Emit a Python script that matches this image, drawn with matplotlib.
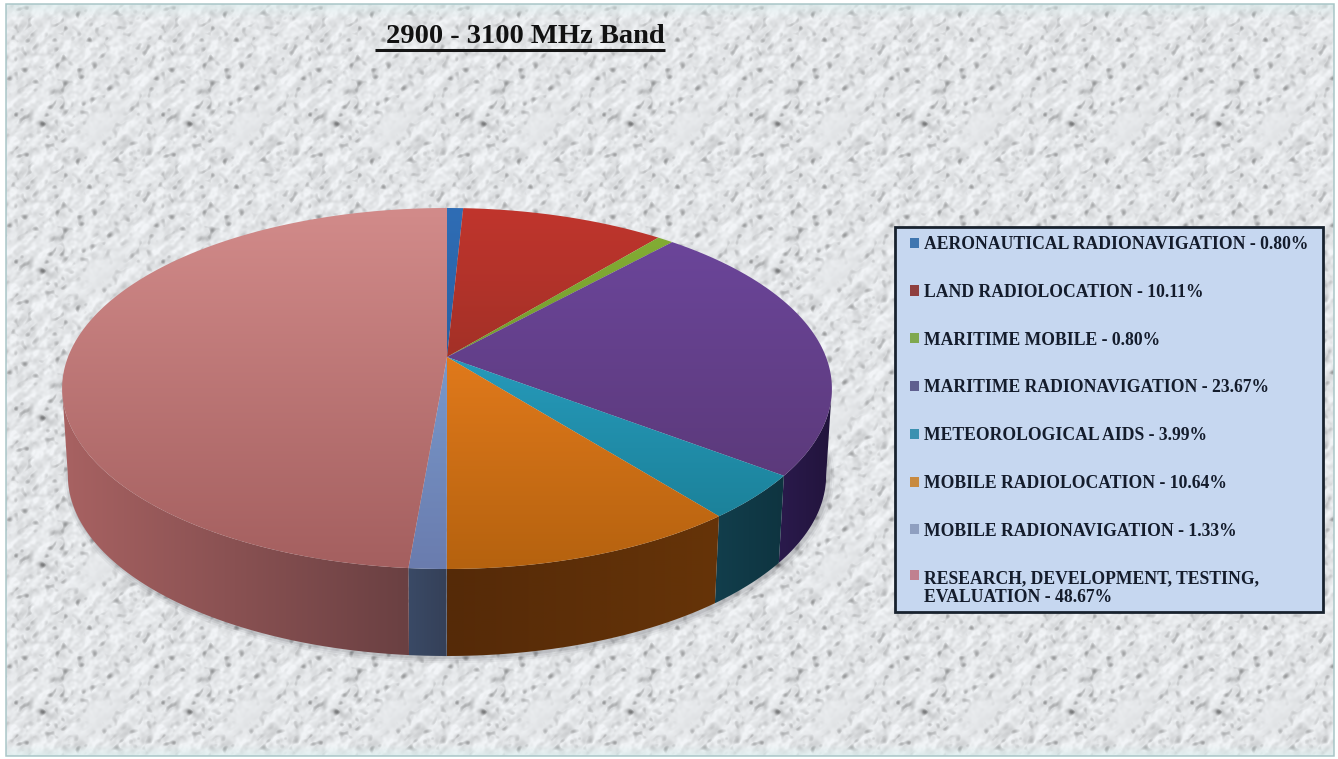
import numpy as np
import matplotlib
matplotlib.use("Agg")
import matplotlib.pyplot as plt
from matplotlib.colors import to_rgb
from matplotlib.legend_handler import HandlerPatch
from matplotlib.patches import Patch, PathPatch, Polygon, Rectangle
from matplotlib.path import Path

# Band allocation, percent of the band, clockwise from 12 o'clock
services = [
    "AERONAUTICAL RADIONAVIGATION",
    "LAND RADIOLOCATION",
    "MARITIME MOBILE",
    "MARITIME RADIONAVIGATION",
    "METEOROLOGICAL AIDS",
    "MOBILE RADIOLOCATION",
    "MOBILE RADIONAVIGATION",
    "RESEARCH, DEVELOPMENT, TESTING,\nEVALUATION",
]
shares = [0.80, 10.11, 0.80, 23.67, 3.99, 10.64, 1.33, 48.67]

# Colours: top face (far edge, near edge), side wall (left end, right end), legend key
top_far = ["#2f6db5", "#c0352d", "#85b035", "#6d479e", "#30b0d8", "#ff8a24", "#82acdf", "#d28b8a"]
top_near = ["#1f4f8a", "#7a2a1e", "#5f8025", "#56356f", "#187a90", "#b5620f", "#6a7cae", "#a45f5f"]
wall_left = ["#1d3a5e", "#5e1c16", "#40581a", "#2a1a4c", "#123e4c", "#552a08", "#3a4a66", "#a86262"]
wall_right = ["#1d3a5e", "#5e1c16", "#40581a", "#22143c", "#0e3440", "#663408", "#354058", "#6a4042"]
key_cols = ["#3f76b0", "#8f3f3f", "#7fa84f", "#5f5f8f", "#3a90b0", "#c88a40", "#8f9fc0", "#c08090"]

W, H = 1338, 759
fig = plt.figure(figsize=(W / 100, H / 100), dpi=100, facecolor="white")
ax = fig.add_axes([0, 0, 1, 1])
ax.set_xlim(0, W)
ax.set_ylim(H, 0)
ax.axis("off")


def marble_tile(n=147):
    """Periodic grey marble tile built from integer-frequency sine waves."""
    y, x = np.mgrid[0:n, 0:n] / n

    def band(kmin, kmax, tilt, salt):
        # band-limited waves; phases come from a fixed hash of the wave numbers
        out = np.zeros_like(x)
        for kx in range(-kmax, kmax + 1):
            for ky in range(0, kmax + 1):
                size = np.hypot(kx, ky)
                if size < kmin or size > kmax:
                    continue
                phase = 2 * np.pi * ((np.sin(kx * 12.9898 + ky * 78.233 + salt) * 43758.5453) % 1)
                along = abs(kx - ky) / (abs(kx) + abs(ky))
                weight = (1 + tilt * (1 - along) ** 3) / size ** 0.8
                out += weight * np.sin(2 * np.pi * (kx * x + ky * y) + phase)
        return out / out.std()

    def periodic_d2(px, py, sx, sy, ang=0.0):
        dx = (x * n - px + n / 2) % n - n / 2
        dy = (y * n - py + n / 2) % n - n / 2
        c, s = np.cos(ang), np.sin(ang)
        return ((dx * c + dy * s) / sx) ** 2 + ((-dx * s + dy * c) / sy) ** 2

    blotches = band(3, 7, 1.5, 1.3)
    flakes = band(6, 18, 2.5, 2.7)
    grain = band(14, 34, 1.5, 4.1)
    mottling = band(7, 22, 1.0, 5.9)
    patches = np.clip(0.75 - 0.6 * blotches, 0, 1)
    dark = np.clip(-mottling - 0.55, 0, None) * patches

    grey = 232 + 3 * blotches + 6.5 * np.clip(flakes, -2.2, 1.2) + 3 * grain - 30 * dark

    # pale diagonal lozenge that recurs with each tile
    lozenge = np.exp(-periodic_d2(95, 122, 34, 14, -0.75) ** 1.5)
    grey = grey * (1 - 0.8 * lozenge) + 233 * 0.8 * lozenge

    # darker vein clusters
    strokes = [
        (110, 72, 2.5, 2.5, 0.0, 50), (30, 50, 8, 2, 0.0, 28), (52, 87, 7, 2.5, 0.0, 30),
        (38, 120, 10, 3, 0.5, 26), (24, 112, 3, 9, 0.2, 24), (58, 155, 3, 3, 0.0, 36),
        (115, 140, 12, 5, -0.6, 16),
    ]
    for px, py, sx, sy, ang, depth in strokes:
        grey -= depth * np.exp(-periodic_d2(px, py, sx, sy, ang))
    return np.clip(grey, 125, 246)


def marble_background():
    x0, x1, y0, y1 = 6, 1334, 4, 756
    tile = marble_tile()
    yy, xx = np.mgrid[y0:y1, x0:x1]
    grey = tile[(yy - y0) % 147, (xx - x0) % 147]
    rgb = np.stack([grey * 0.985, grey * 0.995, grey * 1.005], axis=-1) / 255
    # pale teal wash along the top and bottom edges
    wash = np.clip(1 - (yy - y0) / 14, 0, 1) * 0.6 + np.clip(1 - (y1 - yy) / 12, 0, 1) * 0.75
    rgb = rgb * (1 - wash[..., None]) + np.array([0.86, 0.93, 0.93]) * wash[..., None]
    ax.imshow(np.clip(rgb, 0, 1), extent=(x0, x1, y1, y0), aspect="auto", zorder=0, interpolation="bicubic")
    ax.add_patch(Rectangle((x0, y0), x1 - x0, y1 - y0, fill=False, ec="#a9c6c8", lw=1.1, zorder=1))


# Perspective projection of the disc: hub position, radii, foreshortening, wall depth
HUB_X, HUB_Y = 447.0, 357.0
RAD_X, RAD_Y, TILT = 379.0, 175.0, 0.1745
WALL_DEPTH, WALL_TAPER = 87.0, 0.985
TOP_Y, BOTTOM_Y = 208.0, 569.0
# the wall can only be seen between the two widest points of the rim
WALL_FROM, WALL_TO = np.deg2rad(100.0), np.deg2rad(260.0)


def rim(theta, level=0.0):
    """Screen position of the rim at clockwise angle theta; level 1 is the lower edge."""
    sx, sy = np.sin(theta), np.cos(theta)
    d = 1 + TILT * sy
    u = RAD_X * sx / d
    v = RAD_Y * sy / d
    return HUB_X + u * (1 - (1 - WALL_TAPER) * level), HUB_Y - v + WALL_DEPTH * level


def clip_shape(xs, ys):
    verts = np.column_stack([np.r_[xs, xs[0]], np.r_[ys, ys[0]]])
    codes = [Path.MOVETO] + [Path.LINETO] * (len(verts) - 2) + [Path.CLOSEPOLY]
    patch = PathPatch(Path(verts, codes), transform=ax.transData, fc="none", ec="none")
    ax.add_patch(patch)
    return patch


def ramp(c1, c2, n=256):
    t = np.linspace(0, 1, n)[:, None]
    return np.array(to_rgb(c1))[None, :] * (1 - t) + np.array(to_rgb(c2))[None, :] * t


marble_background()

edges = np.deg2rad(np.concatenate([[0.0], np.cumsum(shares)]) * 3.6)
edges[-1] = 2 * np.pi

# soft cast shadow under the lower edge
sx, sy = rim(np.linspace(0, 2 * np.pi, 361), 1.0)
for width, alpha in [(9, 0.05), (6, 0.07), (3, 0.10)]:
    ax.add_patch(Polygon(np.column_stack([sx + 2, sy + 1]), closed=True, fill=False,
                         ec="#303038", lw=width, alpha=alpha, zorder=2))

for i in range(len(shares)):
    # side wall: horizontal gradient clipped to the visible part of the sector
    t0, t1 = max(edges[i], WALL_FROM), min(edges[i + 1], WALL_TO)
    if t1 > t0:
        tt = np.linspace(t0, t1, max(3, int(np.rad2deg(t1 - t0)) + 2))
        xa, ya = rim(tt, 0.0)
        xb, yb = rim(tt[::-1], 1.0)
        xs, ys = np.r_[xa, xb], np.r_[ya, yb]
        img = ramp(wall_left[i], wall_right[i])[None, :, :]
        wall = ax.imshow(img, extent=(xs.min(), xs.max(), ys.max(), ys.min()), aspect="auto",
                         zorder=3, interpolation="bilinear")
        wall.set_clip_path(clip_shape(xs, ys))

    # top face: vertical gradient clipped to the sector outline
    img = ramp(top_far[i], top_near[i])[:, None, :]
    face = ax.imshow(img, extent=(55, 840, BOTTOM_Y, TOP_Y), aspect="auto", zorder=4, interpolation="bilinear")
    tt = np.linspace(edges[i], edges[i + 1], max(3, int(np.rad2deg(edges[i + 1] - edges[i])) + 2))
    xr, yr = rim(tt)
    face.set_clip_path(clip_shape(np.r_[HUB_X, xr], np.r_[HUB_Y, yr]))
ax.set_xlim(0, W)
ax.set_ylim(H, 0)

# title with its rule
ax.text(525, 36.5, "2900 - 3100 MHz Band", family="Liberation Serif", weight="bold", fontsize=20.5,
        color="#111111", ha="center", va="center", zorder=6)
ax.plot([375, 665], [49.5, 49.5], color="#151515", lw=2.2, solid_capstyle="butt", zorder=6)


def raised_key(legend, orig_handle, xdescent, ydescent, width, height, fontsize):
    """Key for the two-line entry: sits beside the first line of its label."""
    return Rectangle((-xdescent, -ydescent + 0.78 * fontsize), width, height)


# legend panel and entries
ax.add_patch(Rectangle((895, 227), 428, 385, fc="#c6d7f0", ec="#18222e", lw=2.0, zorder=5))
handles = [Patch(fc=c, ec="none") for c in key_cols]
labels = [f"{name} - {val:.2f}%" for name, val in zip(services, shares)]
legend = ax.legend(handles, labels, loc="upper left", bbox_to_anchor=(910 / W, 1 - 236 / H),
                   bbox_transform=ax.transAxes, frameon=False, borderpad=0, borderaxespad=0,
                   handlelength=0.5, handleheight=0.5, handletextpad=0.3, labelspacing=1.745,
                   handler_map={handles[-1]: HandlerPatch(patch_func=raised_key)},
                   prop={"family": "Liberation Serif", "weight": "bold", "size": 12.7})
legend.set_zorder(7)
for text in legend.get_texts():
    text.set_color("#141c2c")
    text.set_linespacing(1.15)

fig.savefig("out.png", dpi=100, facecolor="white")
